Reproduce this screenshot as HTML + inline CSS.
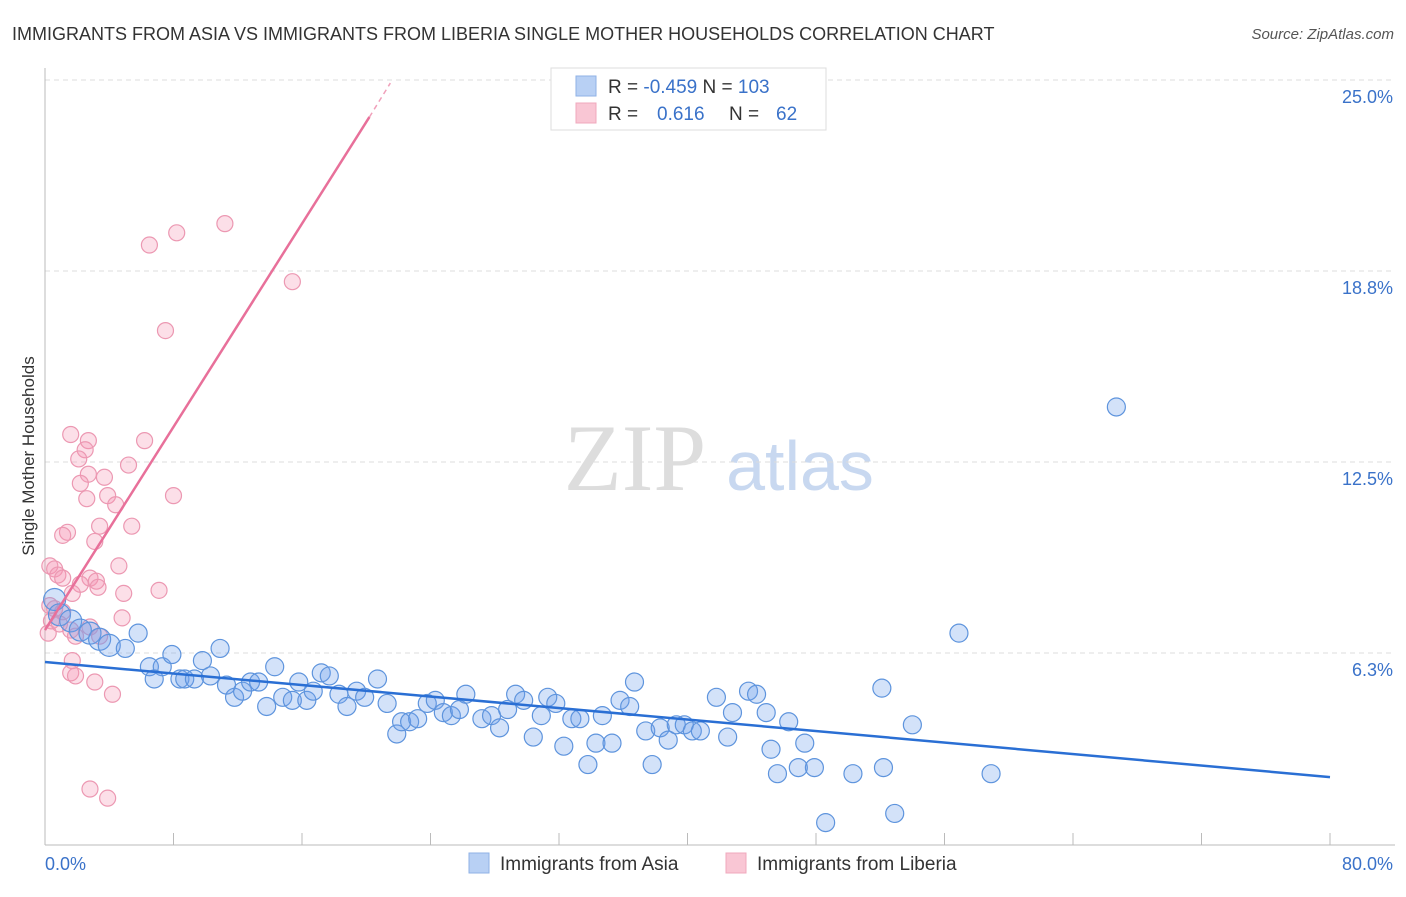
<!DOCTYPE html>
<html><head><meta charset="utf-8"><style>
body{margin:0;background:#fff;font-family:"Liberation Sans",sans-serif}
</style></head><body>
<svg id="chart" width="1406" height="892" xmlns="http://www.w3.org/2000/svg" font-family="Liberation Sans, sans-serif">
<text x="12" y="40" font-size="18" fill="#333">IMMIGRANTS FROM ASIA VS IMMIGRANTS FROM LIBERIA SINGLE MOTHER HOUSEHOLDS CORRELATION CHART</text>
<text x="1394" y="39" font-size="15" fill="#555" font-style="italic" text-anchor="end">Source: ZipAtlas.com</text>
<text transform="translate(34,456) rotate(-90)" font-size="17" fill="#333" text-anchor="middle">Single Mother Households</text>
<g><text x="635" y="490" font-size="95" fill="#ddd" font-family="Liberation Serif, serif" text-anchor="middle">ZIP</text><text x="800" y="490" font-size="70" fill="#c8d8f0" text-anchor="middle">atlas</text></g>
<g id="grid"></g><g id="axes"></g><g id="marks"></g>
<g>
<rect x="551" y="68" width="275" height="62" fill="#fff" stroke="#ddd"/>
<rect x="576" y="76" width="20" height="20" fill="#b8d0f4" stroke="#8fb2e6"/>
<rect x="576" y="103" width="20" height="20" fill="#f9c6d4" stroke="#f0a8bd"/>
<text x="608" y="93" font-size="19" fill="#333">R = <tspan fill="#3a72c9">-0.459</tspan>   N = <tspan fill="#3a72c9">103</tspan></text>
<text x="608" y="120" font-size="19" fill="#333">R =   <tspan fill="#3a72c9" x="657">0.616</tspan><tspan x="729">N =</tspan><tspan fill="#3a72c9" x="776">62</tspan></text>
</g>
<g>
<rect x="469" y="853" width="20" height="20" fill="#b8d0f4" stroke="#8fb2e6"/>
<text x="500" y="870" font-size="19" fill="#333">Immigrants from Asia</text>
<rect x="726" y="853" width="20" height="20" fill="#f9c6d4" stroke="#f0a8bd"/>
<text x="757" y="870" font-size="19" fill="#333">Immigrants from Liberia</text>
</g>
</svg>
<script>
const yTicks=[6.3,12.5,18.8,25.0];
const yTickVals=[6.25,12.5,18.75,25];
const xTickLabels=["0.0%","80.0%"];
const asiaX=[0.6,0.9,1.6,2.2,2.8,3.4,4.0,5.0,5.8,6.5,7.3,7.9,8.4,6.8,8.7,9.3,9.8,10.3,10.9,11.3,11.8,12.3,12.8,13.3,13.8,14.3,14.8,15.4,15.8,16.3,16.7,17.2,17.7,18.3,18.8,19.4,19.9,20.7,21.3,21.9,22.2,22.7,23.2,23.8,24.3,24.8,25.3,25.8,26.2,27.2,27.8,28.3,28.8,29.3,29.8,30.4,30.9,31.3,31.8,32.3,32.8,33.3,33.8,34.3,34.7,35.3,35.8,36.4,36.7,37.4,37.8,38.3,38.8,39.3,39.8,40.3,40.8,41.8,42.5,42.8,43.8,44.3,44.9,45.2,45.6,46.3,46.9,47.3,47.9,48.6,50.3,52.1,52.2,52.9,54.0,56.9,58.9,66.7];
const asiaY=[8.0,7.5,7.3,7.0,6.9,6.7,6.5,6.4,6.9,5.8,5.8,6.2,5.4,5.4,5.4,5.4,6.0,5.5,6.4,5.2,4.8,5.0,5.3,5.3,4.5,5.8,4.8,4.7,5.3,4.7,5.0,5.6,5.5,4.9,4.5,5.0,4.8,5.4,4.6,3.6,4.0,4.0,4.1,4.6,4.7,4.3,4.2,4.4,4.9,4.1,4.2,3.8,4.4,4.9,4.7,3.5,4.2,4.8,4.6,3.2,4.1,4.1,2.6,3.3,4.2,3.3,4.7,4.5,5.3,3.7,2.6,3.8,3.4,3.9,3.9,3.7,3.7,4.8,3.5,4.3,5.0,4.9,4.3,3.1,2.3,4.0,2.5,3.3,2.5,0.7,2.3,5.1,2.5,1.0,3.9,6.9,2.3,14.3];
const libX=[11.2,8.2,6.5,15.4,7.5,1.6,2.7,6.2,2.5,2.1,5.2,2.7,3.7,2.2,3.9,8.0,2.6,4.4,3.4,5.4,1.4,1.1,3.1,4.6,0.3,0.6,0.8,1.1,2.8,3.2,2.2,3.3,7.1,1.7,4.9,0.3,0.6,1.1,4.8,0.4,0.9,1.6,1.9,2.8,3.4,0.2,1.7,1.6,1.9,3.1,4.2,2.8,3.9];
const libY=[20.3,20.0,19.6,18.4,16.8,13.4,13.2,13.2,12.9,12.6,12.4,12.1,12.0,11.8,11.4,11.4,11.3,11.1,10.4,10.4,10.2,10.1,9.9,9.1,9.1,9.0,8.8,8.7,8.7,8.6,8.5,8.4,8.3,8.2,8.2,7.8,7.7,7.6,7.4,7.3,7.2,7.0,6.8,7.1,6.8,6.9,6.0,5.6,5.5,5.3,4.9,1.8,1.5];
const asiaTrend=[[0,5.955],[80,2.19]];
const libTrend=[[0,7.0],[20.2,23.79],[21.5,24.9]];
const NS="http://www.w3.org/2000/svg";
const sx=v=>45+v/80*1285, sy=v=>80+(25-v)*30.56;
function mk(tag,attrs,parent){const e=document.createElementNS(NS,tag);for(const k in attrs)e.setAttribute(k,attrs[k]);document.getElementById(parent).appendChild(e);return e;}
yTickVals.forEach((v,i)=>{
 const l=mk('line',{x1:45,x2:1395,y1:sy(v),y2:sy(v),stroke:'#ddd','stroke-dasharray':'5,4'},'grid');
 
 
 const t=mk('text',{x:1393,y:sy(v)+23,'font-size':18,fill:'#3a72c9','text-anchor':'end'},'axes');
 t.textContent=yTicks[i].toFixed(1)+'%';
 
 
});
const ax=mk('line',{x1:45,x2:1395,y1:845,y2:845,stroke:'#bbb'},'axes');


const ay=mk('line',{x1:45,x2:45,y1:68,y2:845,stroke:'#bbb'},'axes');


for(let i=0;i<=10;i++){const t=mk('line',{x1:sx(i*8),x2:sx(i*8),y1:845,y2:833,stroke:'#bbb'},'axes');
 
 }
[[0,'start',45],[80,'end',1393]].forEach((d,i)=>{const t=mk('text',{x:d[2],y:870,'font-size':18,fill:'#3a72c9','text-anchor':d[1]},'axes');t.textContent=xTickLabels[i];
 
 });
libX.forEach((x,i)=>{const c=mk('circle',{cx:sx(x),cy:sy(libY[i]),r:8,fill:'rgba(244,150,180,0.3)',stroke:'#ec98b2','stroke-width':1.2},'marks');
 
 });
asiaX.forEach((x,i)=>{const c=mk('circle',{cx:sx(x),cy:sy(asiaY[i]),r:(x<5?11:9),fill:'rgba(110,160,235,0.3)',stroke:'#5e94dd','stroke-width':1.2},'marks');
 
 });
const bl=mk('line',{x1:sx(asiaTrend[0][0]),y1:sy(asiaTrend[0][1]),x2:sx(asiaTrend[1][0]),y2:sy(asiaTrend[1][1]),stroke:'#2a6fd4','stroke-width':2.5},'marks');


const pl=mk('line',{x1:sx(libTrend[0][0]),y1:sy(libTrend[0][1]),x2:sx(libTrend[1][0]),y2:sy(libTrend[1][1]),stroke:'#e8709a','stroke-width':2.5},'marks');


const pd=mk('line',{x1:sx(libTrend[1][0]),y1:sy(libTrend[1][1]),x2:sx(libTrend[2][0]),y2:sy(libTrend[2][1]),stroke:'#f0a0ba','stroke-width':1.5,'stroke-dasharray':'5,4'},'marks');


</script>
</body></html>
